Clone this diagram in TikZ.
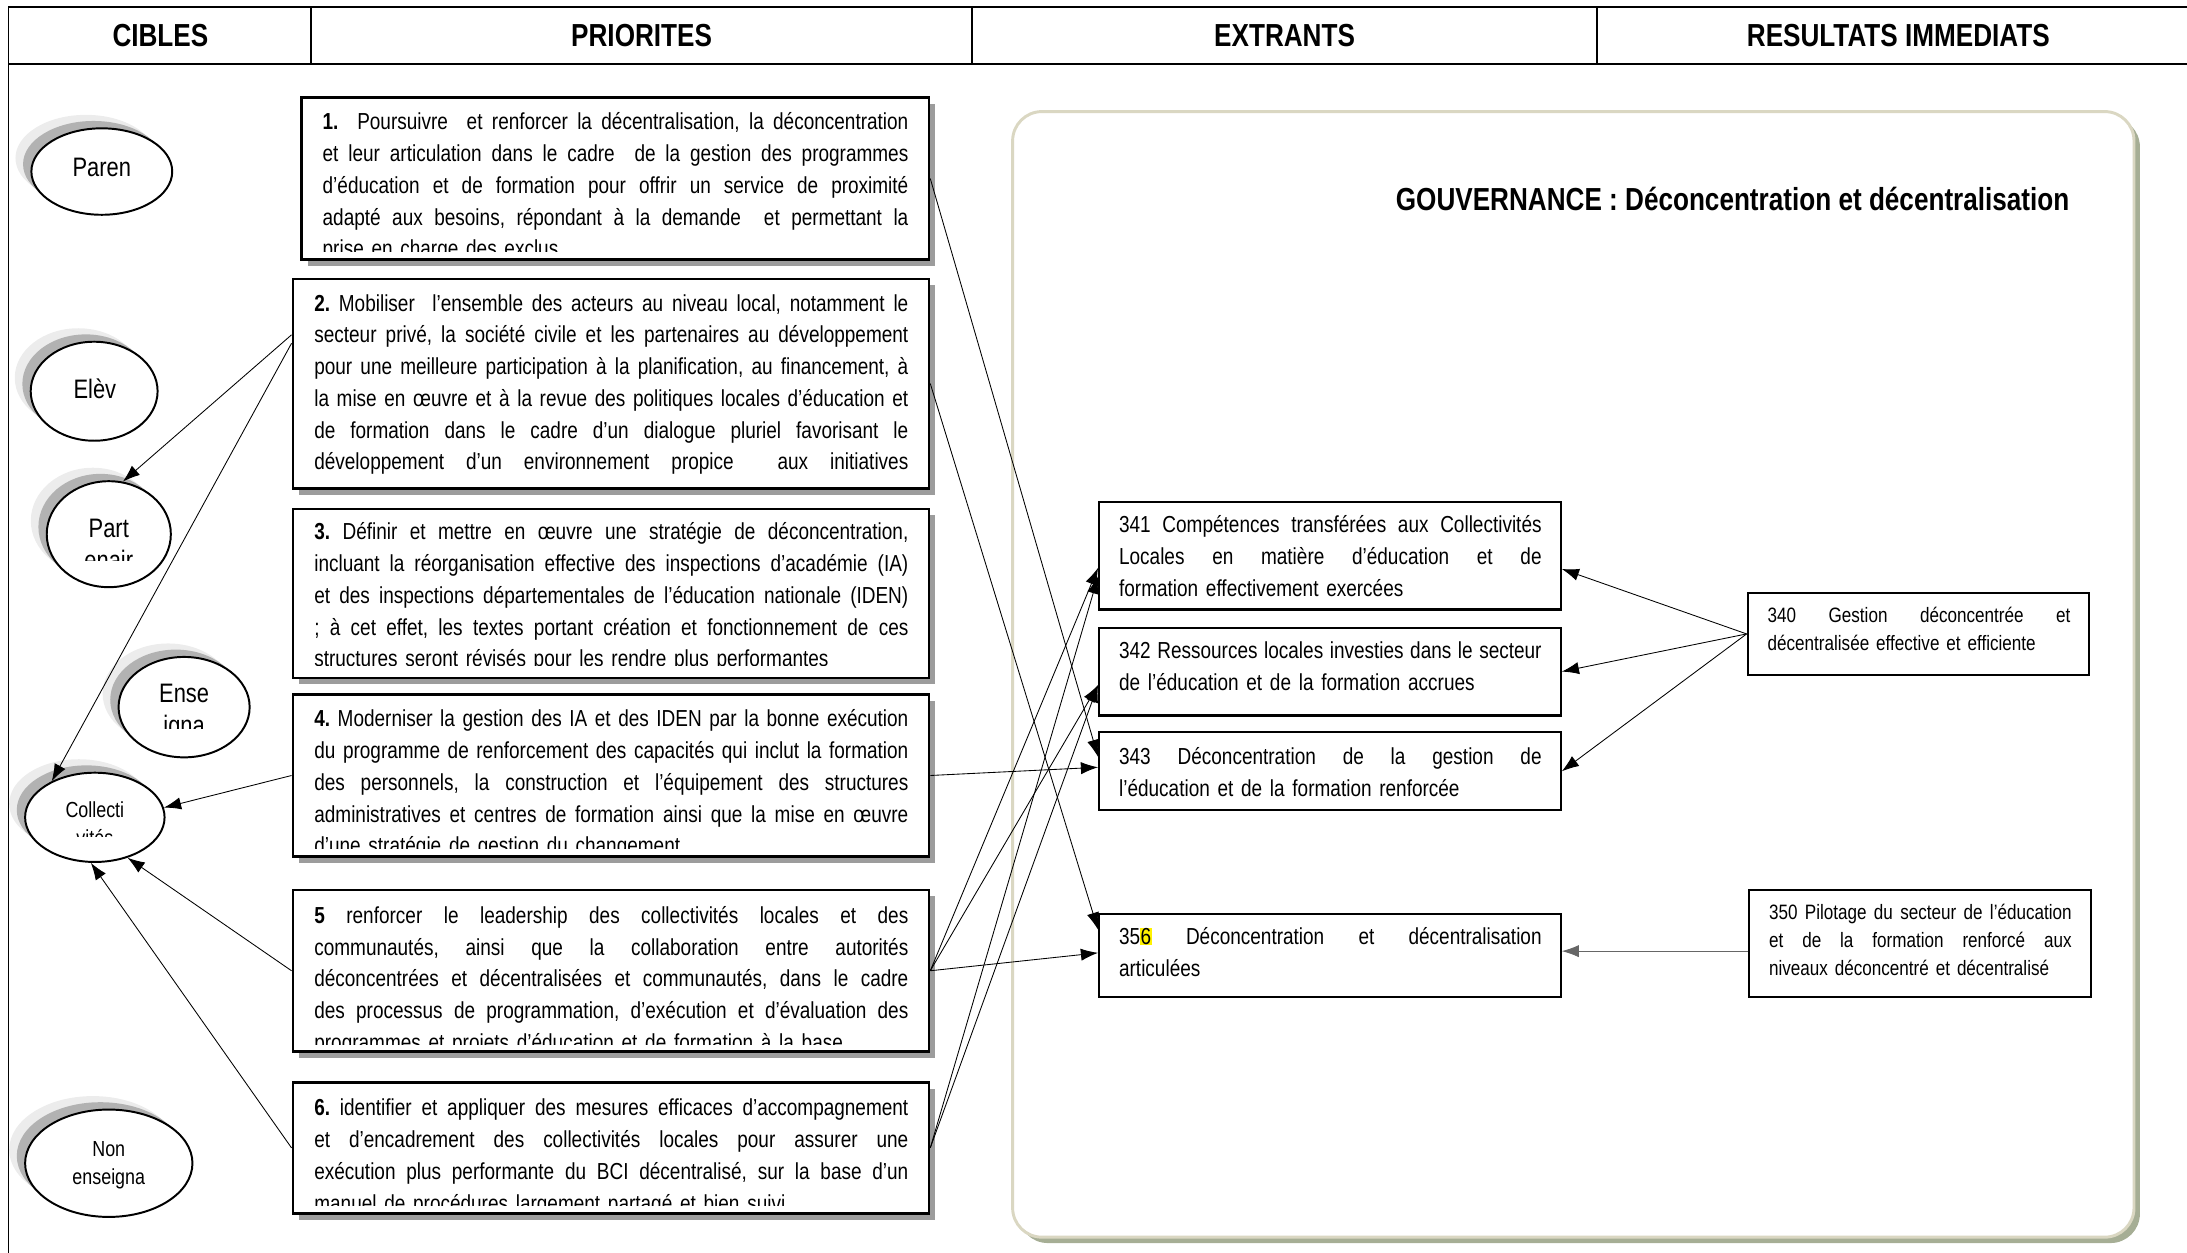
\documentclass[tikz,border=0pt]{standalone}
\usepackage{fontspec}
\setmainfont{Liberation Sans}[FakeStretch=0.82]
\usepackage{tikz}
\usetikzlibrary{positioning, arrows.meta, calc, fit, shapes.geometric, shadows}

\definecolor{govline}{HTML}{DAD7C2}
\definecolor{govshadow}{HTML}{A6AE95}
\definecolor{boxshadow}{HTML}{9C9C9C}

\hyphenpenalty=10000
\exhyphenpenalty=10000
\frenchspacing
\newcommand{\jl}[1]{\leavevmode\hbox to \hsize{\spaceskip=0pt\xspaceskip=0pt #1}}

\begin{document}
\begin{tikzpicture}[x=0.02cm, y=-0.02cm,
    head/.style={font=\fontsize{13}{15}\selectfont\bfseries, anchor=base, inner sep=0pt},
    gov/.style={draw=govline, line width=1.2pt, fill=white, rounded corners=0.42cm, inner sep=0pt,
        drop shadow={shadow xshift=2.4pt, shadow yshift=-2.4pt, fill=govshadow, opacity=1}},
    prio/.style={draw, line width=1.1pt, fill=white, inner sep=0pt,
        drop shadow={shadow xshift=2.6pt, shadow yshift=-2.6pt, fill=boxshadow, opacity=1}},
    outbox/.style={draw, line width=0.85pt, fill=white, inner sep=0pt},
    ptext/.style={font=\fontsize{9.45}{12.97}\selectfont, align=left, inner sep=0pt, anchor=base west},
    rtext/.style={font=\fontsize{8.5}{11.4}\selectfont, align=left, inner sep=0pt, anchor=base west, text width=4.34cm},
    cible/.style={ellipse, draw, line width=0.8pt, fill=white, inner sep=0pt,
        general shadow={fill=gray!15, shadow xshift=-6.5pt, shadow yshift=5.5pt},
        general shadow={fill=gray!60, shadow xshift=-3.4pt, shadow yshift=3pt}},
    ctext/.style={font=\fontsize{10.9}{13}\selectfont, align=center, anchor=base, inner sep=0pt, text width=2cm},
    csmall/.style={font=\fontsize{8.9}{11.6}\selectfont, align=center, anchor=base, inner sep=0pt, text width=2cm},
    link/.style={-{Latex[length=7pt,width=5pt]}, line width=0.35pt}]

\useasboundingbox (0,0) rectangle (1568,898);

%Header
\draw[line width=0.6pt] (1568,5) -- (6,5) -- (6,898);
\draw[line width=0.6pt] (6,46) -- (1568,46);
\foreach \xs in {223,697,1145} \draw[line width=0.6pt] (\xs,5) -- (\xs,46);
\node[head] (hcibles) at (115,33) {CIBLES};
\node[head] (hprio) at (460,33) {PRIORITES};
\node[head] (hextr) at (921,33) {EXTRANTS};
\node[head] (hres) at (1361,33) {RESULTATS IMMEDIATS};

%Gouvernance frame
\node[gov, fit={(726,80) (1530,887)}] (gov) {};
\node[head, anchor=base east] (title) at (1484,151) {GOUVERNANCE : Déconcentration et décentralisation};

%Cibles
\node[cible, minimum width=2.02cm, minimum height=1.24cm] (parents) at (73,123) {};
\node[ctext] (tparents) at (73,126.5) {Paren};
\node[cible, minimum width=1.82cm, minimum height=1.42cm] (eleves) at (67.5,280.5) {};
\node[ctext] (televes) at (68,285.5) {Elèv};
\node[cible, minimum width=1.78cm, minimum height=1.52cm] (partenaires) at (78,383) {};
\begin{scope}
  \clip (20,340) rectangle (140,402);
  \node[ctext] (tpartenaires) at (78,385.5) {Part\\enair};
\end{scope}
\node[cible, minimum width=1.88cm, minimum height=1.44cm] (enseignants) at (132,507) {};
\begin{scope}
  \clip (80,465) rectangle (185,522);
  \node[ctext] (tenseignants) at (132,503.5) {Ense\\igna};
\end{scope}
\node[cible, minimum width=2cm, minimum height=1.28cm] (collectivites) at (68,586) {};
\begin{scope}
  \clip (15,550) rectangle (120,600);
  \node[csmall] (tcollectivites) at (68,586) {Collecti\\vités};
\end{scope}
\node[cible, minimum width=2.4cm, minimum height=1.54cm] (nonens) at (78,834) {};
\node[csmall] (tnonens) at (78,829) {Non\\enseigna};

%Priorites
\node[prio, fit={(216,70) (666,186)}] (p1) {};
\begin{scope}
  \clip (216,70) rectangle (666,180);
  \node[ptext, text width=8.4cm] (tp1) at (231,93) {%
    \jl{\textbf{1.}~ Poursuivre~ et renforcer la décentralisation, la déconcentration}\\
    \jl{et leur articulation dans le cadre~ de la gestion des programmes}\\
    \jl{d’éducation et de formation pour offrir un service de proximité}\\
    \jl{adapté aux besoins, répondant à la demande~ et permettant la}\\
    prise en charge des exclus};
\end{scope}

\node[prio, fit={(210,200) (666,350)}] (p2) {};
\begin{scope}
  \clip (210,200) rectangle (666,346);
  \node[ptext, text width=8.52cm] (tp2) at (225,223) {%
    \jl{\textbf{2.} Mobiliser~ l’ensemble des acteurs au niveau local, notamment le}\\
    \jl{secteur privé, la société civile et les partenaires au développement}\\
    \jl{pour une meilleure participation à la planification, au financement, à}\\
    \jl{la mise en œuvre et à la revue des politiques locales d’éducation et}\\
    \jl{de formation dans le cadre d’un dialogue pluriel favorisant le}\\
    \jl{développement d’un environnement propice~ aux initiatives}};
\end{scope}

\node[prio, fit={(210,365) (666,486)}] (p3) {};
\begin{scope}
  \clip (210,365) rectangle (666,477);
  \node[ptext, text width=8.52cm] (tp3) at (225,387) {%
    \jl{\textbf{3.} Définir et mettre en œuvre une stratégie de déconcentration,}\\
    \jl{incluant la réorganisation effective des inspections d’académie (IA)}\\
    \jl{et des inspections départementales de l’éducation nationale (IDEN)}\\
    \jl{; à cet effet, les textes portant création et fonctionnement de ces}\\
    structures seront révisés pour les rendre plus performantes};
\end{scope}

\node[prio, fit={(210,498) (666,614)}] (p4) {};
\begin{scope}
  \clip (210,498) rectangle (666,608);
  \node[ptext, text width=8.52cm] (tp4) at (225,521) {%
    \jl{\textbf{4.} Moderniser la gestion des IA et des IDEN par la bonne exécution}\\
    \jl{du programme de renforcement des capacités qui inclut la formation}\\
    \jl{des personnels, la construction et l’équipement des structures}\\
    \jl{administratives et centres de formation ainsi que la mise en œuvre}\\
    d’une stratégie de gestion du changement};
\end{scope}

\node[prio, fit={(210,638) (666,754)}] (p5) {};
\begin{scope}
  \clip (210,638) rectangle (666,749);
  \node[ptext, text width=8.52cm] (tp5) at (225,662) {%
    \jl{\textbf{5} renforcer le leadership des collectivités locales et des}\\
    \jl{communautés, ainsi que la collaboration entre autorités}\\
    \jl{déconcentrées et décentralisées et communautés, dans le cadre}\\
    \jl{des processus de programmation, d’exécution et d’évaluation des}\\
    programmes et projets d’éducation et de formation à la base};
\end{scope}

\node[prio, fit={(210,776) (666,870)}] (p6) {};
\begin{scope}
  \clip (210,776) rectangle (666,864);
  \node[ptext, text width=8.52cm] (tp6) at (225,800) {%
    \jl{\textbf{6.} identifier et appliquer des mesures efficaces d’accompagnement}\\
    \jl{et d’encadrement des collectivités locales pour assurer une}\\
    \jl{exécution plus performante du BCI décentralisé, sur la base d’un}\\
    manuel de procédures largement partagé et bien suivi};
\end{scope}

%Extrants
\node[outbox, fit={(788,360) (1119,437)}] (e341) {};
\node[ptext, text width=6.06cm] (te341) at (802,382) {%
  \jl{341 Compétences transférées aux Collectivités}\\
  \jl{Locales en matière d’éducation et de}\\
  formation effectivement exercées};
\node[outbox, fit={(788,450) (1119,513)}] (e342) {};
\node[ptext, text width=6.06cm] (te342) at (802,472) {%
  \jl{342 Ressources locales investies dans le secteur}\\
  de l’éducation et de la formation accrues};
\node[outbox, fit={(788,525) (1119,581)}] (e343) {};
\node[ptext, text width=6.06cm] (te343) at (802,548) {%
  \jl{343 Déconcentration de la gestion de}\\
  l’éducation et de la formation renforcée};
\node[outbox, fit={(788,655) (1119,715)}] (e356) {};
\node[ptext, text width=6.06cm] (te356) at (802,677) {%
  \jl{35{\setlength{\fboxsep}{0.2pt}\colorbox{yellow}{6}} Déconcentration et décentralisation}\\
  articulées};

%Resultats
\node[outbox, fit={(1253,425) (1498,484)}] (r340) {};
\node[rtext] (tr340) at (1267,446) {%
  \jl{340 Gestion déconcentrée et}\\
  décentralisée effective et efficiente};
\node[outbox, fit={(1254,638) (1499,715)}] (r350) {};
\node[rtext] (tr350) at (1268,659) {%
  \jl{350 Pilotage du secteur de l’éducation}\\
  \jl{et de la formation renforcé aux}\\
  niveaux déconcentré et décentralisé};

%Links priorites -> cibles
\draw[link] ($(p2.north west)!0.27!(p2.south west)$) -- (partenaires.75);
\draw[link] ($(p2.north west)!0.31!(p2.south west)$) -- (collectivites.140);
\draw[link] (p4.west) -- (collectivites.8);
\draw[link] (p5.west) -- (collectivites.-51);
\draw[link] (p6.west) -- (collectivites.-95);

%Links priorites -> extrants
\draw[link] (p1.east) -- ($(e343.north west)!0.32!(e343.south west)$);
\draw[link] (p2.east) -- ($(e356.north west)!0.2!(e356.south west)$);
\draw[link] (p4.east) -- ($(e343.north west)!0.45!(e343.south west)$);
\draw[link] (p5.east) -- ($(e341.north west)!0.61!(e341.south west)$);
\draw[link] (p5.east) -- ($(e342.north west)!0.65!(e342.south west)$);
\draw[link] (p5.east) -- ($(e356.north west)!0.47!(e356.south west)$);
\draw[link] (p6.east) -- ($(e341.north west)!0.69!(e341.south west)$);
\draw[link] (p6.east) -- ($(e342.north west)!0.65!(e342.south west)$);

%Links resultats -> extrants
\draw[link] (r340.west) -- ($(e341.north east)!0.62!(e341.south east)$);
\draw[link] (r340.west) -- (e342.east);
\draw[link] (r340.west) -- (e343.east);
\coordinate (t356) at ($(e356.north east)!0.45!(e356.south east)$);
\draw[link, black!60] (r350.west |- t356) -- (t356);

\end{tikzpicture}
\end{document}
